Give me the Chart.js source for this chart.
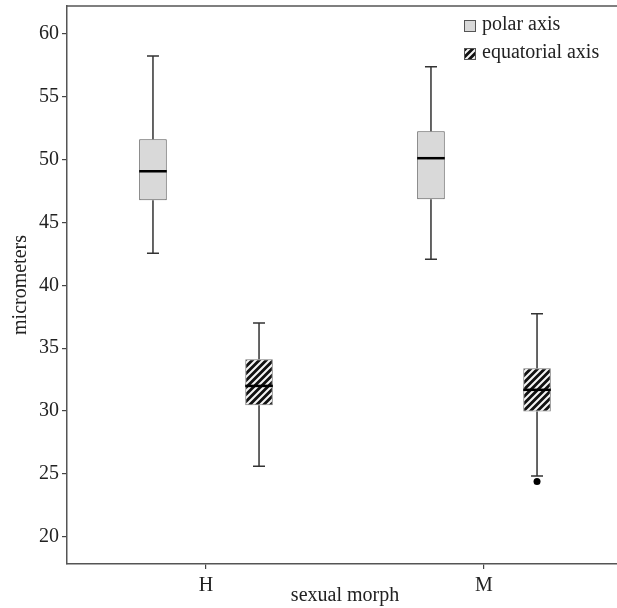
<!DOCTYPE html>
<html><head><meta charset="utf-8">
<script src="https://cdn.jsdelivr.net/npm/chart.js@4.4.0/dist/chart.umd.min.js"></script>
<style>html,body{margin:0;padding:0;overflow:hidden;background:#fff;width:617px;height:608px}canvas{display:block}</style>
</head><body>
<canvas id="c" width="623" height="608"></canvas>
<script>
// ---- data ----
const categories = ['H', 'M'];
const seriesNames = ['polar axis', 'equatorial axis'];
const polarMin    = [42.55, 42.07];
const polarQ1     = [46.77, 46.85];
const polarMedian = [49.08, 50.12];
const polarQ3     = [51.63, 52.27];
const polarMax    = [58.25, 57.40];
const polarOutliers = [[], []];
const eqMin    = [25.60, 24.84];
const eqQ1     = [30.46, 29.96];
const eqMedian = [32.00, 31.69];
const eqQ3     = [34.13, 33.41];
const eqMax    = [37.00, 37.74];
const eqOutliers = [[], [24.4]];
const yTicks = [20, 25, 30, 35, 40, 45, 50, 55, 60];
const yMin = 17.83, yMax = 62.23;

const FONT = 'Liberation Serif';
const canvas = document.getElementById('c');
const mainCtx = canvas.getContext('2d');

function makeHatch() {
  const p = document.createElement('canvas');
  p.width = 7; p.height = 7;
  const g = p.getContext('2d');
  g.fillStyle = '#111'; g.fillRect(0, 0, 7, 7);
  g.strokeStyle = '#f4f4f4'; g.lineWidth = 2.1;
  g.beginPath();
  g.moveTo(-1, 8); g.lineTo(8, -1);
  g.moveTo(-1, 1); g.lineTo(1, -1);
  g.moveTo(6, 8); g.lineTo(8, 6);
  g.stroke();
  return mainCtx.createPattern(p, 'repeat');
}
const hatch = makeHatch();

const stats = [
  {min: polarMin, q1: polarQ1, med: polarMedian, q3: polarQ3, max: polarMax, out: polarOutliers},
  {min: eqMin, q1: eqQ1, med: eqMedian, q3: eqQ3, max: eqMax, out: eqOutliers}
];

const boxPlugin = {
  id: 'boxparts',
  afterDatasetsDraw(chart) {
    const ctx = chart.ctx, ys = chart.scales.y;
    stats.forEach((s, di) => {
      const meta = chart.getDatasetMeta(di);
      meta.data.forEach((bar, i) => {
        const x = bar.x, hw = bar.width / 2;
        const py = v => ys.getPixelForValue(v);
        ctx.save();
        ctx.strokeStyle = '#333'; ctx.lineWidth = 1.5;
        ctx.beginPath();
        ctx.moveTo(x, py(s.q3[i])); ctx.lineTo(x, py(s.max[i]));
        ctx.moveTo(x, py(s.q1[i])); ctx.lineTo(x, py(s.min[i]));
        ctx.moveTo(x - 6, py(s.max[i])); ctx.lineTo(x + 6, py(s.max[i]));
        ctx.moveTo(x - 6, py(s.min[i])); ctx.lineTo(x + 6, py(s.min[i]));
        ctx.stroke();
        ctx.strokeStyle = '#000'; ctx.lineWidth = 2.5;
        ctx.beginPath();
        ctx.moveTo(x - hw, py(s.med[i])); ctx.lineTo(x + hw, py(s.med[i]));
        ctx.stroke();
        ctx.fillStyle = '#000';
        s.out[i].forEach(v => {
          ctx.beginPath(); ctx.arc(x, py(v), 3.5, 0, Math.PI * 2); ctx.fill();
        });
        ctx.restore();
      });
    });
  },
  afterDraw(chart) {
    const ctx = chart.ctx, a = chart.chartArea;
    ctx.save();
    ctx.strokeStyle = '#555'; ctx.lineWidth = 1.5;
    ctx.beginPath(); ctx.moveTo(a.left, a.top); ctx.lineTo(chart.width, a.top); ctx.stroke();
    // legend
    ctx.font = '20px "' + FONT + '"';
    ctx.textBaseline = 'alphabetic';
    chart.data.datasets.forEach((ds, k) => {
      const sy = 20 + k * 28;
      ctx.fillStyle = ds.backgroundColor;
      ctx.fillRect(464, sy, 12, 12);
      ctx.strokeStyle = '#555'; ctx.lineWidth = 1;
      ctx.strokeRect(464.5, sy + 0.5, 11, 11);
      ctx.fillStyle = '#222';
      ctx.fillText(ds.label, 482, sy + 10);
    });
    ctx.restore();
  }
};

new Chart(canvas, {
  type: 'bar',
  data: {
    labels: categories,
    datasets: [
      {label: seriesNames[0], data: categories.map((c, i) => [polarQ1[i], polarQ3[i]]),
       backgroundColor: '#d9d9d9', borderColor: '#555', borderWidth: 1, borderSkipped: false,
       categoryPercentage: 0.763, barPercentage: 0.26},
      {label: seriesNames[1], data: categories.map((c, i) => [eqQ1[i], eqQ3[i]]),
       backgroundColor: hatch, borderColor: '#777', borderWidth: 1, borderSkipped: false,
       categoryPercentage: 0.763, barPercentage: 0.26}
    ]
  },
  options: {
    responsive: false,
    animation: false,
    layout: {padding: {top: 6, left: 0, right: 0, bottom: 0}},
    plugins: {legend: {display: false}, tooltip: {enabled: false}},
    scales: {
      x: {
        type: 'category', offset: true,
        grid: {display: true, offset: false, drawOnChartArea: false, drawTicks: true, tickLength: 5, color: '#444', lineWidth: 1.2},
        border: {display: true, color: '#555', width: 1.5},
        ticks: {color: '#222', font: {family: FONT, size: 20}, padding: 5},
        title: {display: true, text: 'sexual morph', color: '#222', font: {family: FONT, size: 20}, padding: {top: 0, bottom: 0}},
        afterFit(s) { s.height = 44; s.paddingLeft = 0; s.paddingRight = 0; }
      },
      y: {
        min: yMin, max: yMax,
        afterBuildTicks(s) { s.ticks = yTicks.map(v => ({value: v})); },
        grid: {display: true, drawOnChartArea: false, drawTicks: true, tickLength: 5, color: '#444', lineWidth: 1.2},
        border: {display: true, color: '#555', width: 1.5},
        ticks: {color: '#222', font: {family: FONT, size: 20}, padding: 3},
        title: {display: true, text: 'micrometers', color: '#222', font: {family: FONT, size: 20}, padding: {top: 9, bottom: 0}},
        afterFit(s) { s.width = 67; s.paddingTop = 0; s.paddingBottom = 0; }
      }
    }
  },
  plugins: [boxPlugin]
});
</script>
</body></html>
